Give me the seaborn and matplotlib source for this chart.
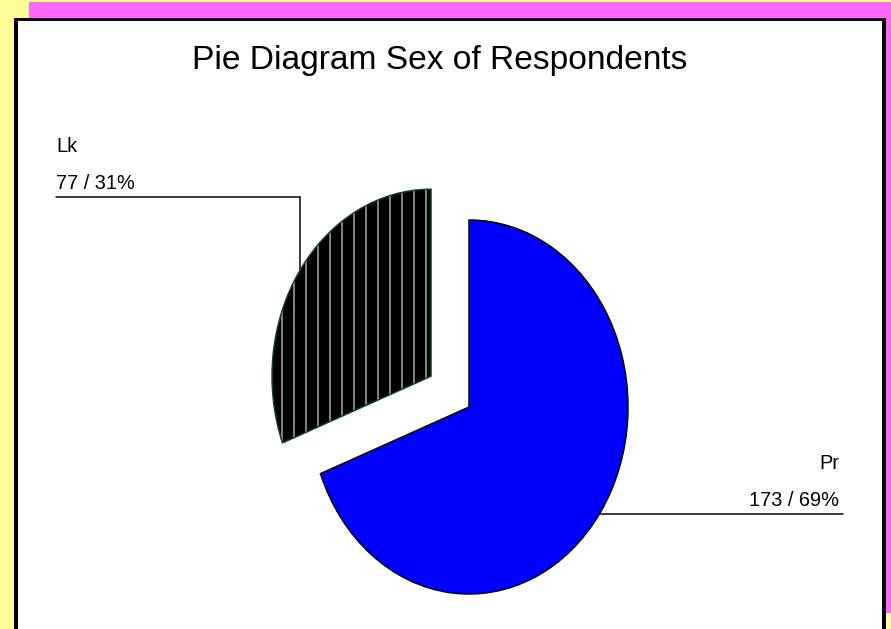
import matplotlib
matplotlib.use("Agg")
import matplotlib.pyplot as plt
import seaborn as sns
from matplotlib.patches import Rectangle, PathPatch
from matplotlib.lines import Line2D

# Survey data: sex of respondents
categories = ["Pr", "Lk"]
counts = [173, 77]
percents = [69, 31]
slice_colors = ["#0000FF", "#000000"]

sns.set_theme(style="white")
plt.rcParams["font.family"] = ["Liberation Sans", "DejaVu Sans"]
plt.rcParams["text.color"] = "#000000"

W, H, DPI = 891, 629, 72
fig = plt.figure(figsize=(W / DPI, H / DPI), dpi=DPI)
fig.patch.set_facecolor("#FFFF99")


def px(x, y):
    """Pixel position (from top-left) to figure fraction."""
    return x / W, 1 - y / H


def box(x0, y0, x1, y1, color, z=-10):
    fx, fy = px(x0, y1)
    fig.add_artist(Rectangle((fx, fy), (x1 - x0) / W, (y1 - y0) / H,
                             transform=fig.transFigure, facecolor=color,
                             edgecolor="none", zorder=z))


# frame decoration
box(29, 1.5, 891, 18, "#FF66FF")
box(885, 1.5, 891, 613, "#FF66FF")
box(14, 18, 885, 629, "#FFFFFF")
box(14, 17.5, 17.5, 629, "#000000", z=-9)
box(14, 17.5, 885, 21, "#000000", z=-9)
box(882, 17.5, 885.5, 629, "#000000", z=-9)

# pie axes: elliptical pie centred at (469, 407) px, radii 159 x 187 px
cx, cy, rx, ry = 469, 407, 159, 187
ax = fig.add_axes([0, 0, 1, 1])
ax.patch.set_visible(False)
wedges, _ = ax.pie(counts, colors=slice_colors, startangle=90,
                   counterclock=False, explode=[0, 0.29],
                   wedgeprops=dict(edgecolor="#000000", linewidth=1.5))
ax.set_aspect("auto")
ax.set_xlim(-cx / rx, (W - cx) / rx)
ax.set_ylim(-(H - cy) / ry, cy / ry)
ax.axis("off")

# striped slice: white vertical hatch with dark outline
plt.rcParams["hatch.linewidth"] = 1.4
lk = wedges[1]
lk.set_edgecolor("#FFFFFF")
lk.set_linewidth(0)
lk.set_hatch("|")
ax.add_patch(PathPatch(lk.get_path(), transform=lk.get_transform(),
                       fill=False, edgecolor="#0B4040", linewidth=1.5,
                       zorder=lk.get_zorder() + 0.1))

# leader lines
def seg(p, q):
    (x0, y0), (x1, y1) = px(*p), px(*q)
    fig.add_artist(Line2D([x0, x1], [y0, y1], transform=fig.transFigure,
                          color="#000000", linewidth=1.5, zorder=-1))


seg((56, 197), (300, 197))
seg((300, 197), (300, 275))
seg((590, 514), (843, 514))

# labels
lab_fs = 20
fig.text(*px(56, 152), categories[1], fontsize=lab_fs, ha="left", va="baseline")
fig.text(*px(56, 189), f"{counts[1]} / {percents[1]}%", fontsize=lab_fs,
         ha="left", va="baseline")
fig.text(*px(839, 469), categories[0], fontsize=lab_fs, ha="right", va="baseline")
fig.text(*px(839, 506), f"{counts[0]} / {percents[0]}%", fontsize=lab_fs,
         ha="right", va="baseline")

fig.text(*px(440, 69), "Pie Diagram Sex of Respondents", fontsize=33.5,
         ha="center", va="baseline")

fig.savefig("out.png", dpi=DPI)
